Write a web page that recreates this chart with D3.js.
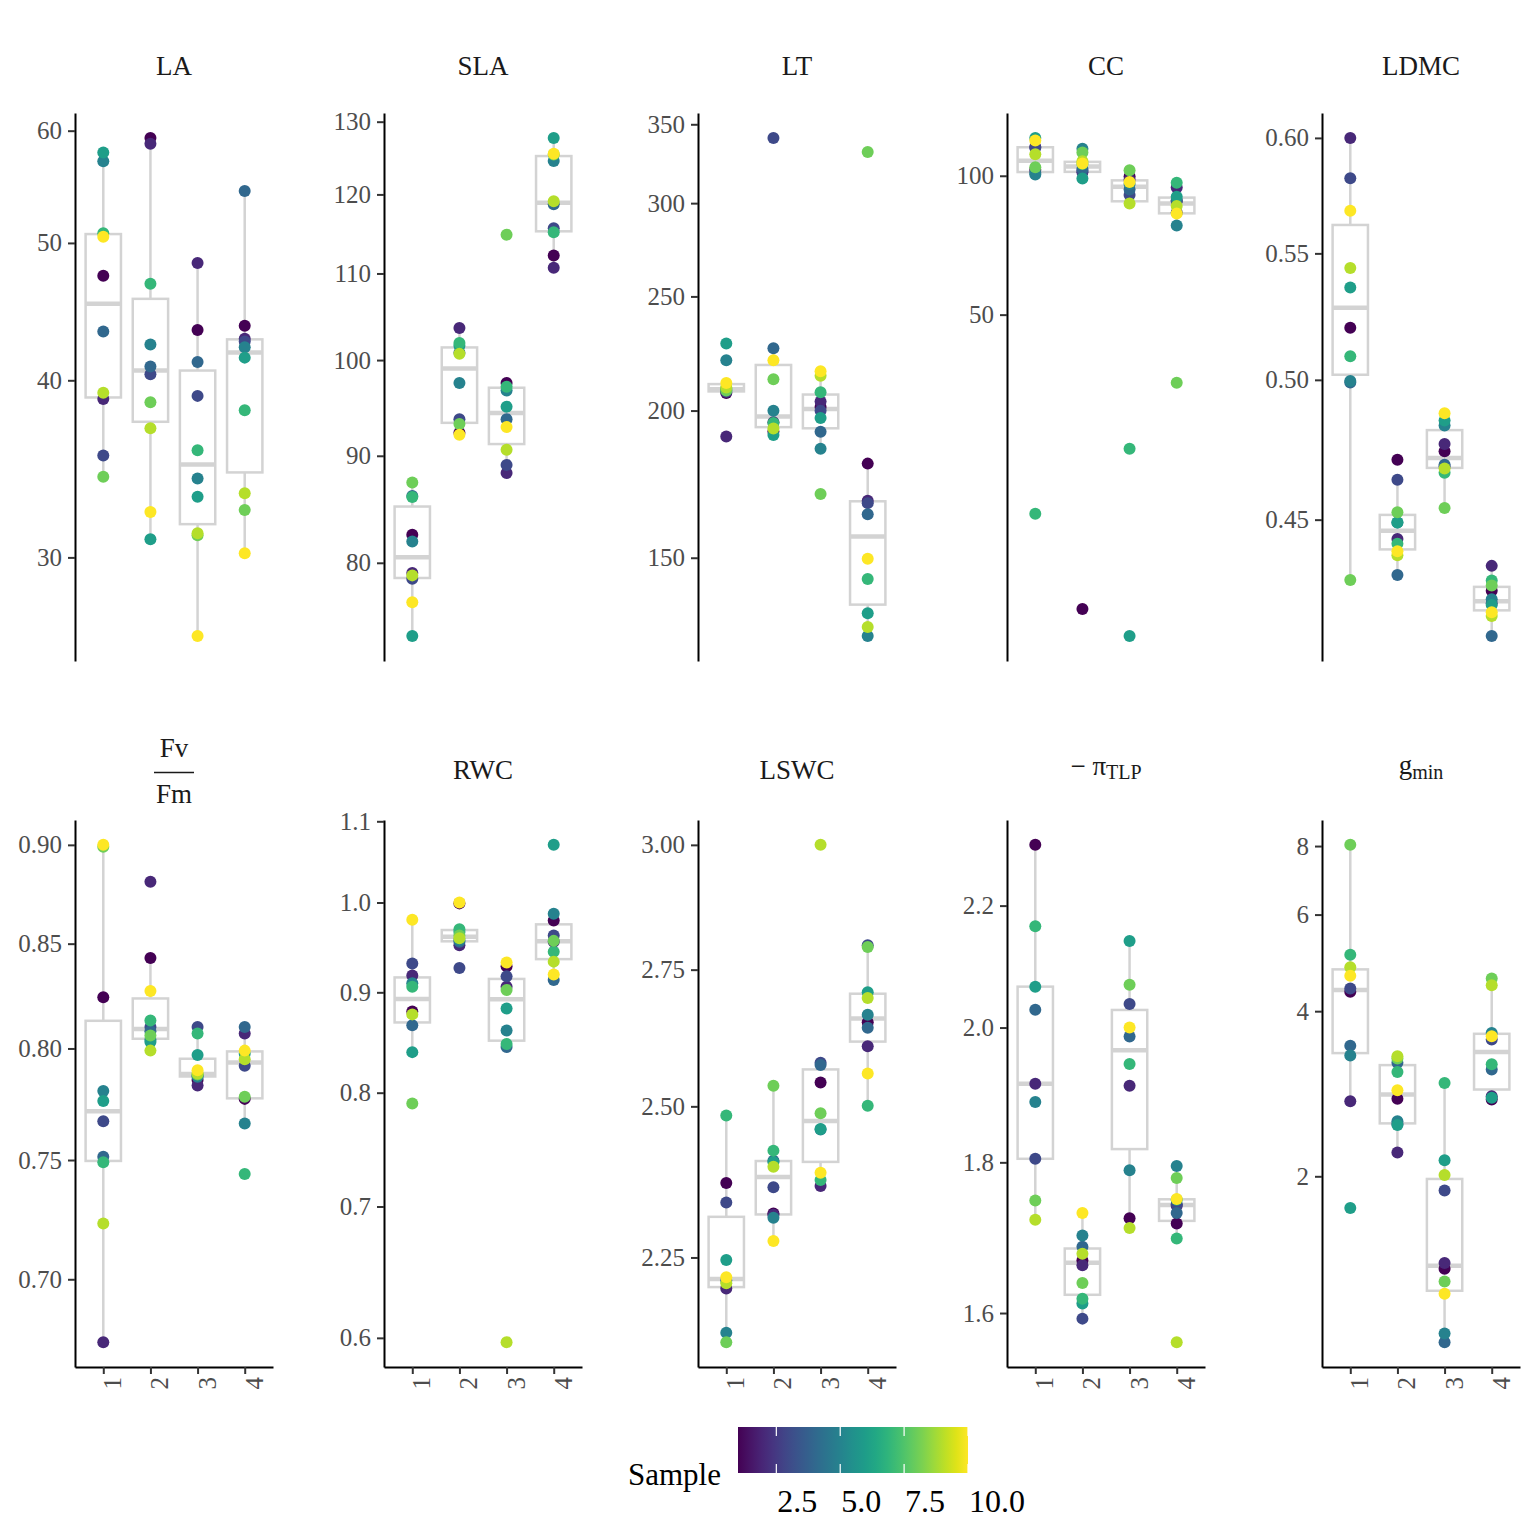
<!DOCTYPE html>
<html><head><meta charset="utf-8">
<script src="https://cdn.jsdelivr.net/npm/d3@7"></script>
<style>
body{margin:0;background:#fff}
svg{display:block}
text{font-family:"Liberation Serif","Times New Roman",Times,serif}
</style>
</head><body>
<svg id="chart" width="1536" height="1536"></svg>
<script>
// ---------------- DATA ----------------
const samples = [1, 2, 3, 4, 5, 6, 7, 8, 9, 10];
const groups = [1, 2, 3, 4];
const traits = ["LA", "SLA", "LT", "CC", "LDMC", "FvFm", "RWC", "LSWC", "piTLP", "gmin"];

// each array: [group1, group2, group3, group4], each group lists samples 1..10
const LA = [
  [47.4, 38.8, 35.4, 43.3, 57.1, 57.9, 50.8, 34.2, 39.2, 50.5],
  [59.3, 58.75, 40.4, 40.9, 42.4, 30.9, 46.8, 38.6, 37.0, 32.3],
  [43.4, 48.4, 39.0, 41.2, 34.1, 33.1, 35.7, 31.1, 31.2, 26.4],
  [43.7, 42.8, 42.6, 54.4, 42.2, 41.5, 38.1, 32.4, 33.3, 30.2]
];
const SLA = [
  [82.5, 79.1, 78.6, 86.1, 81.9, 73.8, 86.0, 87.4, 78.9, 76.6],
  [92.3, 103.6, 93.7, 100.8, 97.5, 101.6, 101.9, 93.2, 100.7, 92.1],
  [97.5, 88.3, 89.1, 93.7, 96.7, 95.0, 97.1, 114.8, 90.6, 92.9],
  [112.2, 110.7, 115.6, 118.7, 124.5, 127.7, 115.1, 125.4, 119.1, 125.5]
];
const LT = [
  [207.0, 190.1, 207.5, 208.2, 220.7, 228.0, 208.8, 208.0, 209.2, 211.1],
  [192.0, 195.5, 340.8, 225.9, 199.9, 190.7, 195.2, 212.6, 193.1, 220.7],
  [201.4, 203.6, 199.9, 191.9, 185.6, 197.1, 207.3, 169.9, 214.1, 216.0],
  [180.3, 167.7, 166.9, 163.3, 128.7, 134.6, 143.9, 331.5, 131.0, 149.7]
];
const CC = [
  [103.0, 115.4, 115.0, 101.5, 100.6, 120.8, 18.5, 104.3, 111.3, 119.3],
  [11.5, 101.8, 102.5, 103.4, 114.4, 98.7, 106.0, 112.3, 107.5, 106.3],
  [99.6, 98.0, 90.9, 93.4, 96.0, 10.05, 25.6, 102.8, 87.1, 96.9],
  [88.2, 94.3, 83.2, 88.4, 78.0, 90.1, 96.6, 35.6, 86.0, 82.8]
];
const LDMC = [
  [0.520, 0.600, 0.582, 0.499, 0.4996, 0.536, 0.509, 0.430, 0.544, 0.568],
  [0.4708, 0.4435, 0.4637, 0.4316, 0.449, 0.449, 0.4419, 0.4525, 0.4381, 0.4394],
  [0.4738, 0.4764, 0.4685, 0.469, 0.4831, 0.4849, 0.4662, 0.454, 0.4677, 0.4876],
  [0.4265, 0.4346, 0.4225, 0.4122, 0.4238, 0.422, 0.4298, 0.4282, 0.4185, 0.4197]
];
const FvFm = [
  [0.824, 0.675, 0.767, 0.7514, 0.7805, 0.776, 0.749, 0.899, 0.723, 0.900],
  [0.843, 0.881, 0.810, 0.808, 0.804, 0.803, 0.813, 0.806, 0.799, 0.827],
  [0.7855, 0.783, 0.810, 0.7875, 0.787, 0.797, 0.807, 0.788, 0.7885, 0.790],
  [0.777, 0.807, 0.792, 0.810, 0.766, 0.7975, 0.744, 0.778, 0.795, 0.799]
];
const RWC = [
  [0.880, 0.918, 0.931, 0.866, 0.9095, 0.839, 0.906, 0.790, 0.877, 0.980],
  [0.999, 0.951, 0.926, 0.955, 0.957, 0.966, 0.969, 0.962, 0.959, 1.000],
  [0.928, 0.906, 0.917, 0.844, 0.8605, 0.883, 0.847, 0.9025, 0.597, 0.932],
  [0.979, 0.955, 0.962, 0.913, 0.987, 1.070, 0.944, 0.956, 0.933, 0.919]
];
const LSWC = [
  [2.370, 2.202, 2.338, 2.214, 2.135, 2.246, 2.484, 2.121, 2.210, 2.219],
  [2.320, 2.318, 2.363, 2.407, 2.313, 2.405, 2.424, 2.536, 2.397, 2.276],
  [2.542, 2.365, 2.577, 2.573, 2.460, 2.461, 2.375, 2.488, 3.000, 2.387],
  [2.651, 2.607, 2.797, 2.641, 2.665, 2.707, 2.501, 2.794, 2.696, 2.558]
];
const piTLP = [
  [2.307, 1.914, 1.805, 2.028, 1.887, 2.065, 2.165, 1.747, 1.721, null],
  [1.667, 1.661, 1.593, 1.685, 1.700, 1.612, 1.618, 1.638, 1.676, 1.730],
  [1.723, 1.911, 2.037, 1.986, 1.789, 2.140, 1.944, 2.068, 1.710, 2.000],
  [1.716, 1.740, 1.742, 1.730, 1.795, 1.748, 1.696, 1.778, 1.564, 1.749]
];
const gmin = [
  [4.34, 2.74, 4.40, 3.46, 3.32, 1.75, 5.07, 8.04, 4.81, 4.64],
  [2.77, 2.21, 2.49, 3.22, 2.52, 2.48, 3.10, 3.28, 3.31, 2.87],
  [1.357, 1.39, 1.884, 0.997, 1.034, 2.14, 2.96, 1.286, 2.01, 1.221],
  [2.76, 2.80, 3.55, 3.13, 3.65, 2.78, 3.20, 4.59, 4.46, 3.60]
];

// tick labels
const LA_ticks = ["30", "40", "50", "60"];
const SLA_ticks = ["80", "90", "100", "110", "120", "130"];
const LT_ticks = ["150", "200", "250", "300", "350"];
const CC_ticks = ["50", "100"];
const LDMC_ticks = ["0.45", "0.50", "0.55", "0.60"];
const FvFm_ticks = ["0.70", "0.75", "0.80", "0.85", "0.90"];
const RWC_ticks = ["0.6", "0.7", "0.8", "0.9", "1.0", "1.1"];
const LSWC_ticks = ["2.25", "2.50", "2.75", "3.00"];
const piTLP_ticks = ["1.6", "1.8", "2.0", "2.2"];
const gmin_ticks = ["2", "4", "6", "8"];
const legendTicks = [2.5, 5.0, 7.5, 10.0];

const valueTable = {LA, SLA, LT, CC, LDMC, FvFm, RWC, LSWC, piTLP, gmin};
const tickTable = {LA: LA_ticks, SLA: SLA_ticks, LT: LT_ticks, CC: CC_ticks, LDMC: LDMC_ticks,
  FvFm: FvFm_ticks, RWC: RWC_ticks, LSWC: LSWC_ticks, piTLP: piTLP_ticks, gmin: gmin_ticks};

// ---------------- LAYOUT ----------------
const svg = d3.select("#chart");
const FONT = '"Liberation Serif","Times New Roman",Times,serif';
const colLeft = [75, 384, 698, 1007, 1322];
const panelW = 198;
const rowTop = [113, 820];
const rowH = [548, 547];
const titleBase = [75, 779];
const BOX = "#D3D3D3";
const TICKFS = 25;

const color = d3.scaleSequential(d3.interpolateViridis).domain([1, 10]);

function boxStats(vals) {
  const l = vals.filter(v => v != null).map(Math.log).sort(d3.ascending);
  const q1 = d3.quantileSorted(l, 0.25), med = d3.quantileSorted(l, 0.5), q3 = d3.quantileSorted(l, 0.75);
  const iqr = q3 - q1;
  const lo = d3.min(l.filter(v => v >= q1 - 1.5 * iqr));
  const hi = d3.max(l.filter(v => v <= q3 + 1.5 * iqr));
  return {q1: Math.exp(q1), med: Math.exp(med), q3: Math.exp(q3), lo: Math.exp(lo), hi: Math.exp(hi)};
}

function drawTitle(t, cx, base) {
  const tg = svg.append("g").attr("fill", "#1a1a1a").attr("font-family", FONT);
  if (t === "FvFm") {
    tg.append("text").attr("x", cx).attr("y", base - 22).attr("text-anchor", "middle")
      .style("font-size", "27px").text("Fv");
    tg.append("line").attr("x1", cx - 20).attr("x2", cx + 20).attr("y1", base - 6.5).attr("y2", base - 6.5)
      .attr("stroke", "#1a1a1a").attr("stroke-width", 1.6);
    tg.append("text").attr("x", cx).attr("y", base + 24).attr("text-anchor", "middle")
      .style("font-size", "27px").text("Fm");
  } else if (t === "piTLP") {
    const tx = tg.append("text").attr("x", cx).attr("y", base - 4).attr("text-anchor", "middle")
      .style("font-size", "27px");
    tx.append("tspan").text("\u2212 \u03C0");
    tx.append("tspan").attr("dy", 4).style("font-size", "20px").text("TLP");
  } else if (t === "gmin") {
    const tx = tg.append("text").attr("x", cx).attr("y", base - 5).attr("text-anchor", "middle")
      .style("font-size", "27px");
    tx.append("tspan").text("g");
    tx.append("tspan").attr("dy", 5).style("font-size", "20px").text("min");
  } else {
    tg.append("text").attr("x", cx).attr("y", base).attr("text-anchor", "middle")
      .style("font-size", "27px").text(t);
  }
}

traits.forEach((t, i) => {
  const col = i % 5, row = Math.floor(i / 5);
  const left = colLeft[col], top = rowTop[row], ph = rowH[row];
  const vals = valueTable[t];
  const ticks = tickTable[t];
  const all = vals.flat().filter(v => v != null);
  const l0 = Math.log(d3.min(all)), l1 = Math.log(d3.max(all)), pad = 0.05 * (l1 - l0);
  const y = d3.scaleLog().domain([Math.exp(l0 - pad), Math.exp(l1 + pad)]).range([top + ph, top]);
  const x = d3.scaleLinear().domain([0.4, 4.6]).range([left, left + panelW]);
  const g = svg.append("g");

  // boxplots
  groups.forEach((gr, gi) => {
    const st = boxStats(vals[gi]);
    const cx = x(gr), hw = x(gr + 0.375) - cx;
    g.append("line").attr("x1", cx).attr("x2", cx).attr("y1", y(st.hi)).attr("y2", y(st.q3))
      .attr("stroke", BOX).attr("stroke-width", 2.5);
    g.append("line").attr("x1", cx).attr("x2", cx).attr("y1", y(st.q1)).attr("y2", y(st.lo))
      .attr("stroke", BOX).attr("stroke-width", 2.5);
    g.append("rect").attr("x", cx - hw).attr("y", y(st.q3)).attr("width", 2 * hw)
      .attr("height", Math.max(0, y(st.q1) - y(st.q3)))
      .attr("fill", "#fff").attr("stroke", BOX).attr("stroke-width", 2.5);
    g.append("line").attr("x1", cx - hw).attr("x2", cx + hw).attr("y1", y(st.med)).attr("y2", y(st.med))
      .attr("stroke", BOX).attr("stroke-width", 4.5);
  });

  // points
  groups.forEach((gr, gi) => {
    samples.forEach((s, si) => {
      const v = vals[gi][si];
      if (v == null) return;
      g.append("circle").attr("cx", x(gr)).attr("cy", y(v)).attr("r", 6).attr("fill", color(s));
    });
  });

  // y axis
  const ya = g.append("g").attr("transform", `translate(${left},0)`)
    .call(d3.axisLeft(y).tickValues(ticks.map(Number)).tickFormat((d, k) => ticks[k])
      .tickSize(7).tickSizeOuter(0).tickPadding(6));
  ya.attr("font-family", FONT).attr("font-size", TICKFS);
  ya.select(".domain").attr("stroke", "#000").attr("stroke-width", 2);
  ya.selectAll(".tick line").attr("stroke", "#333").attr("stroke-width", 2);
  ya.selectAll(".tick text").attr("fill", "#4d4d4d");

  // x axis on bottom row
  if (row === 1) {
    const xa = g.append("g").attr("transform", `translate(0,${top + ph})`)
      .call(d3.axisBottom(x).tickValues(groups).tickFormat(d3.format("d")).tickSize(7).tickSizeOuter(0));
    xa.attr("font-family", FONT).attr("font-size", TICKFS);
    xa.select(".domain").attr("stroke", "#000").attr("stroke-width", 2);
    xa.selectAll(".tick line").attr("stroke", "#333").attr("stroke-width", 2);
    xa.selectAll(".tick text").attr("fill", "#4d4d4d").attr("x", 0).attr("y", 0)
      .attr("dy", "0.7em").attr("text-anchor", "end")
      .attr("transform", "translate(0,10) rotate(-90)");
  }

  drawTitle(t, left + panelW / 2, titleBase[row]);
});

// ---------------- LEGEND ----------------
const cb = {x: 738, y: 1427, w: 230, h: 46};
const defs = svg.append("defs");
const grad = defs.append("linearGradient").attr("id", "vir").attr("x1", "0%").attr("x2", "100%");
d3.range(0, 1.0001, 0.05).forEach(p => {
  grad.append("stop").attr("offset", (p * 100) + "%").attr("stop-color", d3.interpolateViridis(p));
});
svg.append("rect").attr("x", cb.x).attr("y", cb.y).attr("width", cb.w).attr("height", cb.h)
  .attr("fill", "url(#vir)");
const lx = d3.scaleLinear().domain([1, 10]).range([cb.x, cb.x + cb.w]);
legendTicks.forEach(v => {
  svg.append("line").attr("x1", lx(v)).attr("x2", lx(v)).attr("y1", cb.y).attr("y2", cb.y + 9)
    .attr("stroke", "#fff").attr("stroke-width", 1.2);
  svg.append("line").attr("x1", lx(v)).attr("x2", lx(v)).attr("y1", cb.y + cb.h - 9).attr("y2", cb.y + cb.h)
    .attr("stroke", "#fff").attr("stroke-width", 1.2);
  svg.append("text").attr("x", lx(v) + 1).attr("y", 1512).attr("text-anchor", "start")
    .attr("font-family", FONT).style("font-size", "32px").attr("fill", "#000")
    .text(d3.format(".1f")(v));
});
svg.append("text").attr("x", 628).attr("y", 1485).attr("font-family", FONT)
  .style("font-size", "31px").attr("fill", "#000").text("Sample");
</script>
</body></html>
